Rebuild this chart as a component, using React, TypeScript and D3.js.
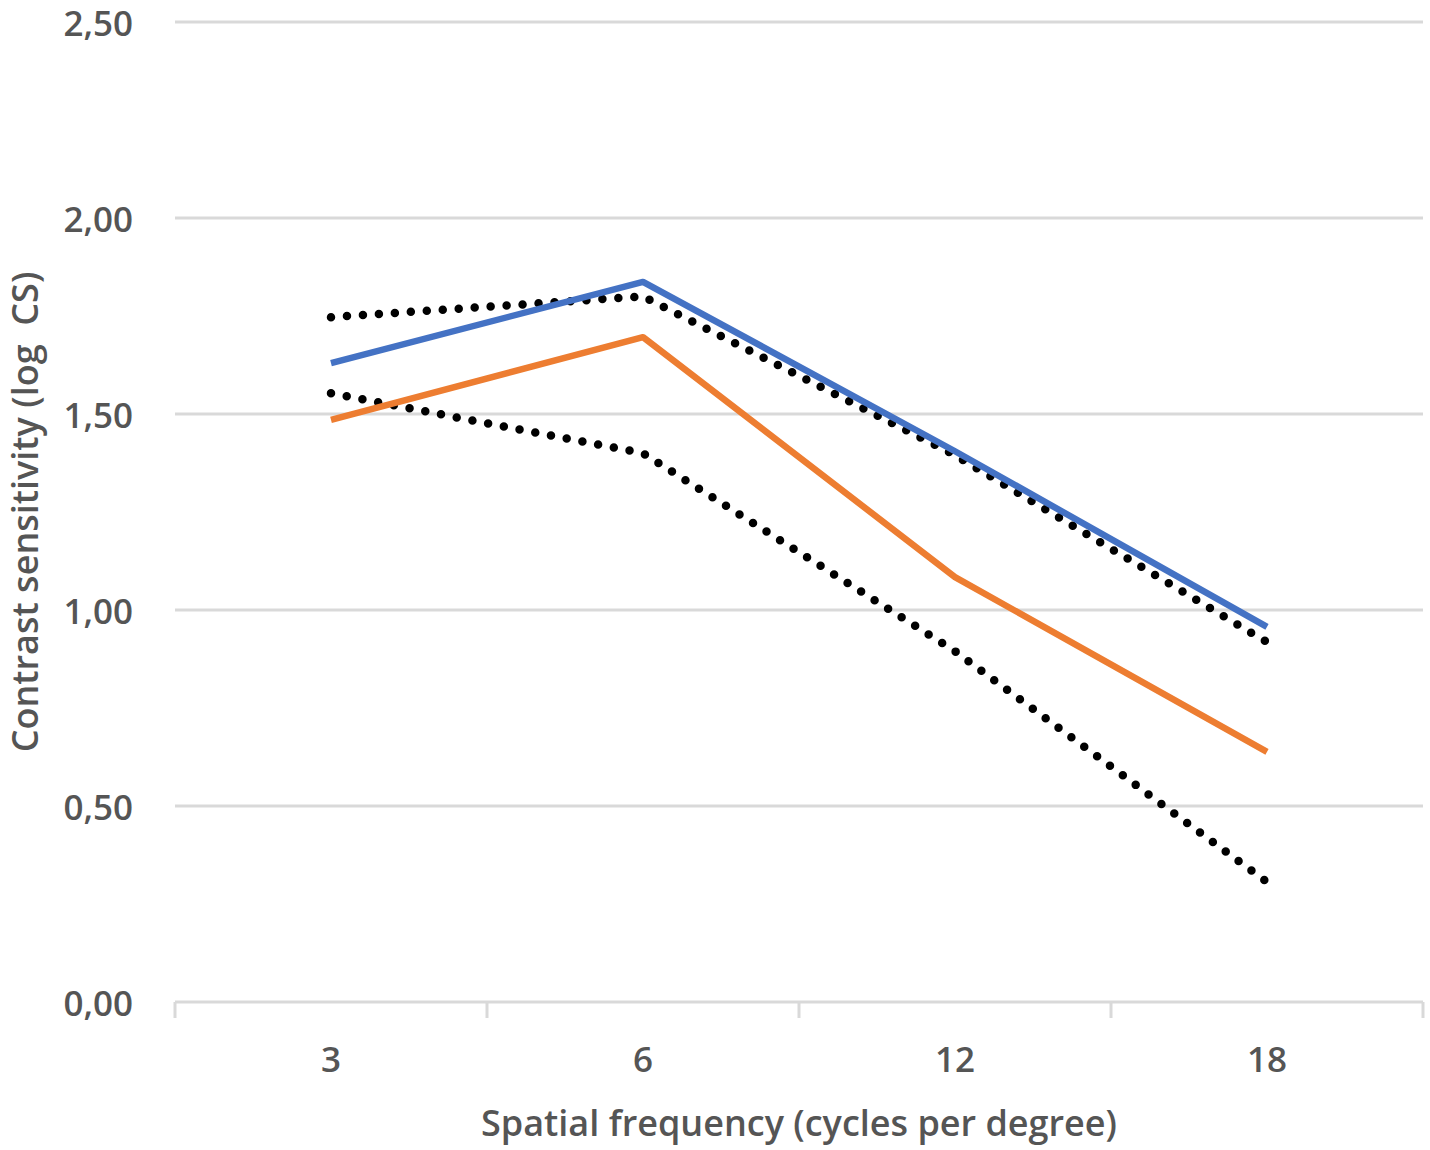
import React from "react";
import * as d3 from "d3";

const categories = ["3", "6", "12", "18"];
const blueSeries = [1.63, 1.837, 1.405, 0.957];
const orangeSeries = [1.485, 1.696, 1.084, 0.638];
const upperLimit = [1.747, 1.80, 1.395, 0.918];
const lowerLimit = [1.553, 1.40, 0.895, 0.306];
const yTicks = [0, 0.5, 1.0, 1.5, 2.0, 2.5];
const xTitle = "Spatial frequency (cycles per degree)";
const yTitle = "Contrast sensitivity (log  CS)";

const W = 1430;
const H = 1150;
const left = 175;
const right = 1423;
const top = 22;
const bottom = 1002;
const textColor = "#555555";
const gridColor = "#d9d9d9";
const font = "'Open Sans', sans-serif";

export default function App() {
  const x = d3.scaleBand<string>().domain(categories).range([left, right]).padding(0);
  const y = d3.scaleLinear().domain([0, 2.5]).range([bottom, top]);
  const cx = (c: string) => (x(c) ?? 0) + x.bandwidth() / 2;
  const line = d3
    .line<number>()
    .x((_, i) => cx(categories[i]))
    .y((v) => y(v));

  const tickXs = [...categories.map((c) => x(c) ?? 0), right];

  return (
    <svg
      width={W}
      height={H}
      style={{ position: "absolute", left: 0, top: 0, background: "#fff" }}
      fontFamily={font}
      fontWeight={600}
    >
      <rect width={W} height={H} fill="#fff" />
      {yTicks.map((t) => (
        <g key={t}>
          <line x1={left} x2={right} y1={y(t)} y2={y(t)} stroke={gridColor} strokeWidth={3} />
          <text
            x={133}
            y={y(t)}
            textAnchor="end"
            dominantBaseline="central"
            fontSize={35}
            fill={textColor}
          >
            {t.toFixed(2).replace(".", ",")}
          </text>
        </g>
      ))}
      {tickXs.map((tx, i) => (
        <line key={i} x1={tx} x2={tx} y1={bottom} y2={bottom + 16} stroke={gridColor} strokeWidth={3} />
      ))}
      {categories.map((c) => (
        <text
          key={c}
          x={cx(c)}
          y={1058}
          textAnchor="middle"
          dominantBaseline="central"
          fontSize={35}
          fill={textColor}
        >
          {c}
        </text>
      ))}
      <text x={(left + right) / 2} y={1122} textAnchor="middle" dominantBaseline="central" fontSize={36} fill={textColor}>
        {xTitle}
      </text>
      <text
        transform={`translate(24, ${512}) rotate(-90)`}
        textAnchor="middle"
        dominantBaseline="central"
        fontSize={36}
        fill={textColor}
        style={{ whiteSpace: "pre" }}
      >
        {yTitle}
      </text>

      <path d={line(upperLimit) ?? ""} fill="none" stroke="#000" strokeWidth={8.5} strokeLinecap="round" strokeDasharray="0 16" />
      <path d={line(lowerLimit) ?? ""} fill="none" stroke="#000" strokeWidth={8.5} strokeLinecap="round" strokeDasharray="0 16" />
      <path d={line(blueSeries) ?? ""} fill="none" stroke="#4472c4" strokeWidth={6.5} strokeLinejoin="round" />
      <path d={line(orangeSeries) ?? ""} fill="none" stroke="#ed7d31" strokeWidth={6.5} strokeLinejoin="round" />
    </svg>
  );
}
